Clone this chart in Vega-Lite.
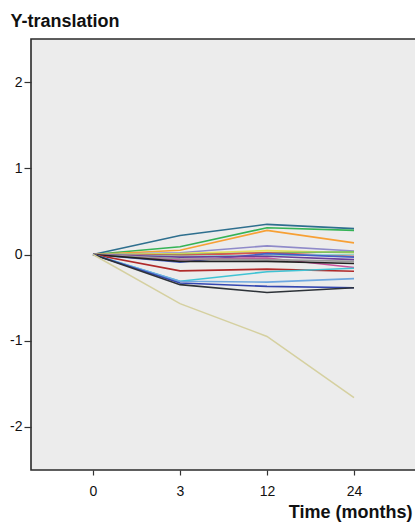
{
  "$schema": "https://vega.github.io/schema/vega-lite/v6.json",
  "width": 385,
  "height": 431,
  "autosize": {"type": "none"},
  "padding": {"left": 31, "top": 39, "right": 0, "bottom": 53},
  "background": "white",
  "config": {
    "view": {"fill": "#ececec", "stroke": "#2a2a2a", "strokeWidth": 1.6},
    "font": "Liberation Sans"
  },
  "datasets": {
    "series": [
      {"id": "s01", "c": "#2e6f8e", "t": 0, "v": 0}, {"id": "s01", "c": "#2e6f8e", "t": 3, "v": 0.22}, {"id": "s01", "c": "#2e6f8e", "t": 12, "v": 0.35}, {"id": "s01", "c": "#2e6f8e", "t": 24, "v": 0.30},
      {"id": "s02", "c": "#35b356", "t": 0, "v": 0}, {"id": "s02", "c": "#35b356", "t": 3, "v": 0.09}, {"id": "s02", "c": "#35b356", "t": 12, "v": 0.31}, {"id": "s02", "c": "#35b356", "t": 24, "v": 0.28},
      {"id": "s03", "c": "#f7a035", "t": 0, "v": 0}, {"id": "s03", "c": "#f7a035", "t": 3, "v": 0.05}, {"id": "s03", "c": "#f7a035", "t": 12, "v": 0.28}, {"id": "s03", "c": "#f7a035", "t": 24, "v": 0.135},
      {"id": "s04", "c": "#8f8ac9", "t": 0, "v": 0}, {"id": "s04", "c": "#8f8ac9", "t": 3, "v": 0.02}, {"id": "s04", "c": "#8f8ac9", "t": 12, "v": 0.10}, {"id": "s04", "c": "#8f8ac9", "t": 24, "v": 0.04},
      {"id": "s05", "c": "#e6e05a", "t": 0, "v": 0}, {"id": "s05", "c": "#e6e05a", "t": 3, "v": 0.01}, {"id": "s05", "c": "#e6e05a", "t": 12, "v": 0.045}, {"id": "s05", "c": "#e6e05a", "t": 24, "v": 0.02},
      {"id": "s06", "c": "#7cc060", "t": 0, "v": 0}, {"id": "s06", "c": "#7cc060", "t": 3, "v": 0.0}, {"id": "s06", "c": "#7cc060", "t": 12, "v": 0.02}, {"id": "s06", "c": "#7cc060", "t": 24, "v": 0.03},
      {"id": "s07", "c": "#d9534f", "t": 0, "v": 0}, {"id": "s07", "c": "#d9534f", "t": 3, "v": -0.01}, {"id": "s07", "c": "#d9534f", "t": 12, "v": 0.02}, {"id": "s07", "c": "#d9534f", "t": 24, "v": -0.02},
      {"id": "s08", "c": "#8fd4cc", "t": 0, "v": 0}, {"id": "s08", "c": "#8fd4cc", "t": 3, "v": -0.02}, {"id": "s08", "c": "#8fd4cc", "t": 12, "v": -0.01}, {"id": "s08", "c": "#8fd4cc", "t": 24, "v": 0.0},
      {"id": "s09", "c": "#4460c8", "t": 0, "v": 0}, {"id": "s09", "c": "#4460c8", "t": 3, "v": -0.09}, {"id": "s09", "c": "#4460c8", "t": 12, "v": 0.01}, {"id": "s09", "c": "#4460c8", "t": 24, "v": -0.03},
      {"id": "s10", "c": "#6c3f99", "t": 0, "v": 0}, {"id": "s10", "c": "#6c3f99", "t": 3, "v": -0.03}, {"id": "s10", "c": "#6c3f99", "t": 12, "v": -0.02}, {"id": "s10", "c": "#6c3f99", "t": 24, "v": -0.06},
      {"id": "s11", "c": "#c9519b", "t": 0, "v": 0}, {"id": "s11", "c": "#c9519b", "t": 3, "v": -0.06}, {"id": "s11", "c": "#c9519b", "t": 12, "v": -0.04}, {"id": "s11", "c": "#c9519b", "t": 24, "v": -0.15},
      {"id": "s12", "c": "#9a9a9a", "t": 0, "v": 0}, {"id": "s12", "c": "#9a9a9a", "t": 3, "v": -0.05}, {"id": "s12", "c": "#9a9a9a", "t": 12, "v": -0.06}, {"id": "s12", "c": "#9a9a9a", "t": 24, "v": -0.08},
      {"id": "s13", "c": "#222222", "t": 0, "v": 0}, {"id": "s13", "c": "#222222", "t": 3, "v": -0.08}, {"id": "s13", "c": "#222222", "t": 12, "v": -0.08}, {"id": "s13", "c": "#222222", "t": 24, "v": -0.105},
      {"id": "s14", "c": "#b02a2a", "t": 0, "v": 0}, {"id": "s14", "c": "#b02a2a", "t": 3, "v": -0.19}, {"id": "s14", "c": "#b02a2a", "t": 12, "v": -0.17}, {"id": "s14", "c": "#b02a2a", "t": 24, "v": -0.195},
      {"id": "s15", "c": "#3fc3d4", "t": 0, "v": 0}, {"id": "s15", "c": "#3fc3d4", "t": 3, "v": -0.31}, {"id": "s15", "c": "#3fc3d4", "t": 12, "v": -0.20}, {"id": "s15", "c": "#3fc3d4", "t": 24, "v": -0.16},
      {"id": "s16", "c": "#6ea8e0", "t": 0, "v": 0}, {"id": "s16", "c": "#6ea8e0", "t": 3, "v": -0.31}, {"id": "s16", "c": "#6ea8e0", "t": 12, "v": -0.32}, {"id": "s16", "c": "#6ea8e0", "t": 24, "v": -0.28},
      {"id": "s17", "c": "#3346b0", "t": 0, "v": 0}, {"id": "s17", "c": "#3346b0", "t": 3, "v": -0.33}, {"id": "s17", "c": "#3346b0", "t": 12, "v": -0.37}, {"id": "s17", "c": "#3346b0", "t": 24, "v": -0.385},
      {"id": "s18", "c": "#2d3238", "t": 0, "v": 0}, {"id": "s18", "c": "#2d3238", "t": 3, "v": -0.35}, {"id": "s18", "c": "#2d3238", "t": 12, "v": -0.44}, {"id": "s18", "c": "#2d3238", "t": 24, "v": -0.385},
      {"id": "s19", "c": "#d5d0a0", "t": 0, "v": 0}, {"id": "s19", "c": "#d5d0a0", "t": 3, "v": -0.57}, {"id": "s19", "c": "#d5d0a0", "t": 12, "v": -0.95}, {"id": "s19", "c": "#d5d0a0", "t": 24, "v": -1.66}
    ]
  },
  "data": {"name": "series"},
  "mark": {"type": "line", "strokeWidth": 1.6, "clip": true},
  "encoding": {
    "x": {
      "field": "t",
      "type": "ordinal",
      "sort": [0, 3, 12, 24],
      "scale": {"type": "point", "padding": 0.7126},
      "axis": {
        "title": "Time (months)",
        "titleFontSize": 18,
        "titleFontWeight": "bold",
        "titleColor": "#111111",
        "titleAlign": "right",
        "titleAnchor": "end",
        "titleX": 381,
        "titleY": 47,
        "titleBaseline": "alphabetic",
        "labelAngle": 0,
        "labelFontSize": 14,
        "labelColor": "#111111",
        "labelPadding": 9,
        "tickSize": 5,
        "tickColor": "#333333",
        "tickWidth": 1.2,
        "domain": false,
        "grid": false
      }
    },
    "y": {
      "field": "v",
      "type": "quantitative",
      "scale": {"domain": [-2.5, 2.5], "nice": false, "zero": false},
      "axis": {
        "title": "Y-translation",
        "titleFontSize": 18,
        "titleFontWeight": "bold",
        "titleColor": "#111111",
        "titleAngle": 0,
        "titleAlign": "left",
        "titleBaseline": "alphabetic",
        "titleX": -21,
        "titleY": -13,
        "values": [-2, -1, 0, 1, 2],
        "labelExpr": "datum.value < 0 ? '-' + abs(datum.value) : '' + datum.value",
        "labelFontSize": 14,
        "labelColor": "#111111",
        "labelPadding": 2,
        "tickSize": 7,
        "tickColor": "#333333",
        "tickWidth": 1.2,
        "domain": false,
        "grid": false
      }
    },
    "detail": {"field": "id"},
    "color": {"field": "c", "type": "nominal", "scale": null}
  }
}
